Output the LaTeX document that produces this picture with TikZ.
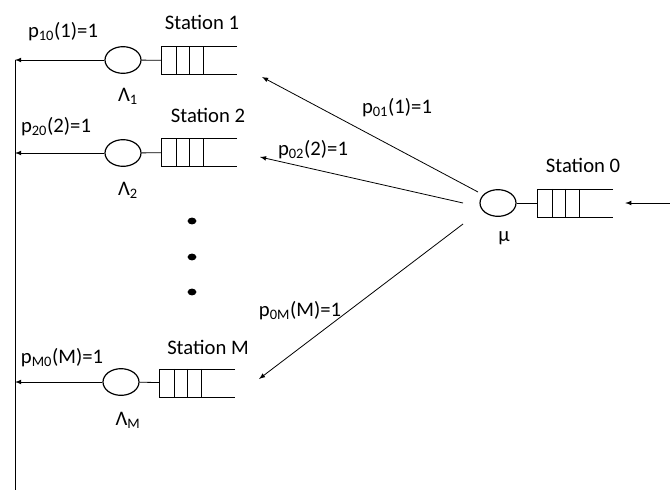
\documentclass[tikz,border=0pt]{standalone}
\usepackage{fontspec}
\setmainfont{Carlito}
\usetikzlibrary{calc,shapes.geometric}

\begin{document}
\begin{tikzpicture}[x=0.75pt,y=-0.75pt,line width=0.6pt,
    server/.style={draw,ellipse,line width=0.9pt,minimum width=27pt,minimum height=20pt,inner sep=0pt},
    queue/.style={minimum width=56pt,minimum height=20.5pt,inner sep=0pt},
    lbl/.style={font=\fontsize{15.5}{18}\selectfont,inner sep=0pt}]
    \useasboundingbox (0,0) rectangle (670,492);
    % Stations
    \node[server] (s1) at (123,60) {};
    \node[queue] (q1) at (199.5,60.5) {};
    \node[server] (s2) at (123,153) {};
    \node[queue] (q2) at (199.5,152.5) {};
    \node[server] (sM) at (121,382) {};
    \node[queue] (qM) at (197.5,383) {};
    \node[server] (s0) at (498,203) {};
    \node[queue] (q0) at (575.5,203) {};
    \foreach \q in {q1,q2,qM,q0} {
      \draw (\q.north east) -- (\q.north west) -- (\q.south west) -- (\q.south east);
      \foreach \f in {0.2,0.37,0.55}
        \draw ($(\q.north west)!\f!(\q.north east)$) -- ($(\q.south west)!\f!(\q.south east)$);
    }
    \draw (s1) -- (q1);
    \draw (s2) -- (q2);
    \draw (sM) -- (qM);
    \draw (s0) -- (q0);
    % Return line
    \coordinate (bustop) at (15,60);
    \coordinate (busbot) at (15,490);
    \draw (bustop) -- (busbot);
    \draw[-latex] (s1.west) -- (s1.west -| bustop);
    \draw[-latex] (s2.west) -- (s2.west -| bustop);
    \draw[-latex] (sM.west) -- (sM.west -| bustop);
    % Routing from station 0
    \coordinate (f1) at (478,192);
    \coordinate (f2) at (463,203);
    \coordinate (fM) at (463,224);
    \coordinate (e1) at (262,77);
    \coordinate (e2) at (260,157);
    \coordinate (eM) at (259,379);
    \draw[-latex] (f1) -- (e1);
    \draw[-latex] (f2) -- (e2);
    \draw[-latex] (fM) -- (eM);
    \coordinate (in) at (670,203);
    \draw[-latex] (in) -- ([xshift=9pt]q0.east);
    % Dots
    \foreach \y in {221,257,292}
      \fill (192,\y) ellipse (3.3pt and 2.6pt);
    % Labels
    \node[lbl] (st1) at (202,22) {Station 1};
    \node[lbl] (st2) at (208,115) {Station 2};
    \node[lbl] (stM) at (208,347) {Station M};
    \node[lbl] (st0) at (583,165) {Station 0};
    \node[lbl] (la1) at (128,96) {Λ\textsubscript{1}};
    \node[lbl] (la2) at (128,190) {Λ\textsubscript{2}};
    \node[lbl] (laM) at (128,420) {Λ\textsubscript{M}};
    \node[lbl] (mu) at (504,238) {μ};
    \node[lbl] (p10) at (63,32) {p\textsubscript{10}(1)=1};
    \node[lbl] (p20) at (56,127) {p\textsubscript{20}(2)=1};
    \node[lbl] (pM0) at (62,358) {p\textsubscript{M0}(M)=1};
    \node[lbl] (p01) at (397,108) {p\textsubscript{01}(1)=1};
    \node[lbl] (p02) at (313,150) {p\textsubscript{02}(2)=1};
    \node[lbl] (p0M) at (300,311) {p\textsubscript{0M}(M)=1};
\end{tikzpicture}
\end{document}
